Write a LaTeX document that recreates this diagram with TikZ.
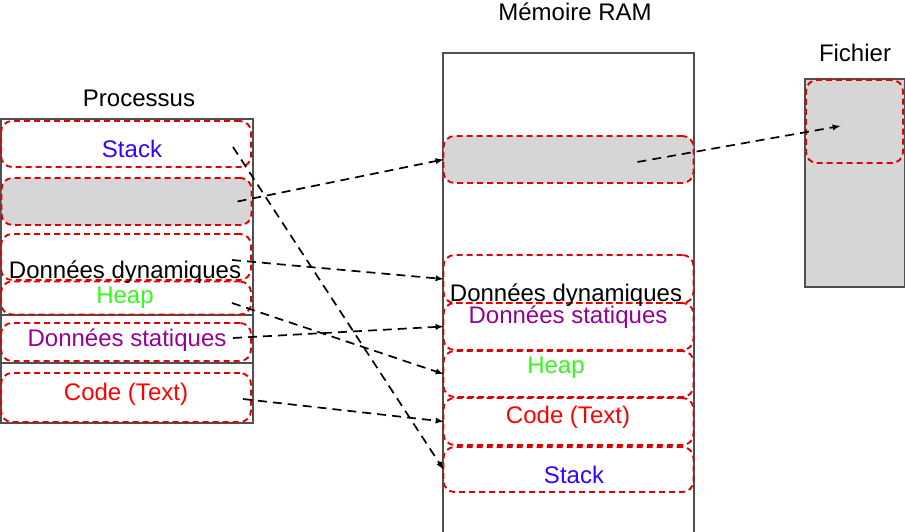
\documentclass[tikz,border=0pt]{standalone}
\usepackage{fontspec}
\setmainfont{Liberation Sans}
\usetikzlibrary{calc, backgrounds}
\definecolor{rougeZone}{RGB}{225,0,0}
\definecolor{grisZone}{RGB}{214,214,214}
\definecolor{grisBord}{RGB}{80,80,80}
\definecolor{bleuStack}{RGB}{55,0,255}
\definecolor{vertHeap}{RGB}{50,250,30}
\definecolor{violetStat}{RGB}{150,0,150}
\definecolor{rougeCode}{RGB}{255,0,0}
\tikzset{
  zone/.style={draw=rougeZone, line width=1.9pt, dash pattern=on 6pt off 4pt, rounded corners=11pt, minimum width=250pt, inner sep=0pt, outer sep=0pt},
  bloc/.style={draw=grisBord, line width=1.3pt},
  txt/.style={font=\fontsize{24}{28}\selectfont, inner sep=0pt},
  lien/.style={->, >=latex, dash pattern=on 9pt off 6pt, line width=1.7pt}
}

\begin{document}
\begin{tikzpicture}[x=1pt, y=-1pt]
		\useasboundingbox (0,0) rectangle (905,532);
		
		% processus
		\draw[bloc] (1,119) rectangle (253,423);
		\draw[bloc] (1,315) -- (253,315);
		\draw[bloc] (1,363) -- (253,363);
		\node[txt] (tproc) at (139,98) {Processus};
		\node[zone, minimum height=46pt] (pstack) at (126,144) {};
		\node[zone, fill=grisZone, minimum height=47pt] (pmap) at (126.5,201.5) {};
		\node[zone, minimum height=46pt] (pdyn) at (126,257) {};
		\node[zone, minimum height=33pt] (pheap) at (126,298) {};
		\node[zone, minimum height=38pt] (pstat) at (126,342) {};
		\node[zone, minimum height=49pt] (pcode) at (126,397.5) {};
		\node[txt, text=bleuStack] (lpstack) at (132,149) {Stack};
		\node[txt] (lpdyn) at (125,272) {Données dynamiques};
		\node[txt, text=vertHeap] (lpheap) at (125,298) {Heap};
		\node[txt, text=violetStat] (lpstat) at (127,340) {Données statiques};
		\node[txt, text=rougeCode] (lpcode) at (126,394) {Code (Text)};
		
		% memoire
		\draw[bloc] (443,532) |- (694,53) -- (694,532);
		\node[txt] (tram) at (575,12) {Mémoire RAM};
		\node[zone, fill=grisZone, minimum height=47pt] (mmap) at (568.5,159.5) {};
		\node[zone, minimum height=48pt] (mdyn) at (568.5,279) {};
		\node[zone, minimum height=47pt] (mstat) at (568.5,326.5) {};
		\node[zone, minimum height=46pt] (mheap) at (568.5,374) {};
		\node[zone, minimum height=47pt] (mcode) at (568.5,421.5) {};
		\node[zone, minimum height=45pt] (mstack) at (568.5,469.5) {};
		\node[txt] (lmdyn) at (566,295) {Données dynamiques};
		\node[txt, text=violetStat] (lmstat) at (568,317) {Données statiques};
		\node[txt, text=vertHeap] (lmheap) at (556,368) {Heap};
		\node[txt, text=rougeCode] (lmcode) at (568,417) {Code (Text)};
		\node[txt, text=bleuStack] (lmstack) at (574,475) {Stack};
		
		% fichier
		\draw[bloc, fill=grisZone] (805,79) rectangle (905,287);
		\node[txt] (tfich) at (855,53) {Fichier};
		\node[zone, minimum width=97pt, minimum height=83pt] (fmap) at (854.5,121.5) {};
		
		\draw[lien] ([xshift=-18pt, yshift=-3pt]pstack.east) -- (mstack.west);
		\draw[lien] ([xshift=-14pt]pmap.east) -- (mmap.west);
		\draw[lien] ([xshift=-19pt, yshift=-3pt]pdyn.east) -- (mdyn.west);
		\draw[lien] ([xshift=-19pt, yshift=-5pt]pheap.east) -- (mheap.west);
		\draw[lien] ([xshift=-18pt, yshift=4pt]pstat.east) -- (mstat.west);
		\draw[lien] ([xshift=-8pt, yshift=-1.5pt]pcode.east) -- (mcode.west);
		\draw[lien] ([xshift=-56pt, yshift=-2.5pt]mmap.east) -- ([xshift=-14pt, yshift=-4.5pt]fmap.center);
\end{tikzpicture}
\end{document}
